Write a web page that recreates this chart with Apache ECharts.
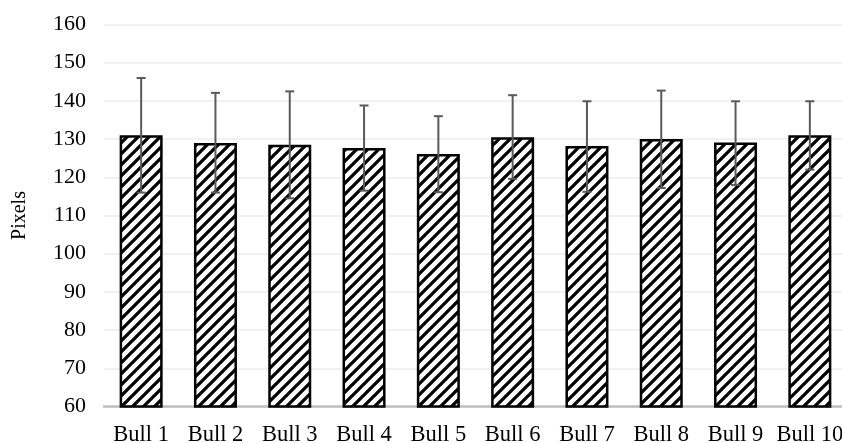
<!DOCTYPE html>
<html>
<head>
<meta charset="utf-8">
<script src="https://cdn.jsdelivr.net/npm/echarts@6/dist/echarts.min.js"></script>
<style>html,body{margin:0;padding:0;background:#fff;}#c{width:842px;height:443px;}</style>
</head>
<body>
<div id="c"></div>
<script>
const categories = ['Bull 1','Bull 2','Bull 3','Bull 4','Bull 5','Bull 6','Bull 7','Bull 8','Bull 9','Bull 10'];
const means = [131, 129, 128.5, 127.7, 126.1, 130.5, 128.2, 130, 129.1, 131];
const errLow = [116, 116, 114.5, 116.5, 116.1, 119.6, 116.2, 117.2, 118, 122];
const errHigh = [146, 142.1, 142.5, 138.8, 136, 141.5, 139.9, 142.7, 139.9, 139.9];
const yTicks = {min: 60, max: 160, interval: 10};

function makePattern() {
  const s = 11;
  const cv = document.createElement('canvas');
  cv.width = s; cv.height = s;
  const ctx = cv.getContext('2d');
  ctx.fillStyle = '#fff';
  ctx.fillRect(0, 0, s, s);
  ctx.strokeStyle = '#000';
  ctx.lineWidth = 3.3;
  ctx.beginPath();
  ctx.moveTo(-s, s); ctx.lineTo(s, -s);
  ctx.moveTo(0, 2*s); ctx.lineTo(2*s, 0);
  ctx.moveTo(-s, 2*s); ctx.lineTo(2*s, -s);
  ctx.stroke();
  return cv;
}

const chart = echarts.init(document.getElementById('c'), null, {renderer: 'canvas'});
const font = 'Liberation Serif';
chart.setOption({
  animation: false,
  grid: {left: 104, width: 743, top: 24.5, bottom: 36.5, containLabel: false, outerBoundsMode: 'none'},
  xAxis: {
    type: 'category',
    data: categories,
    axisLine: {lineStyle: {color: '#bfbfbf', width: 2.5}},
    axisTick: {show: false},
    axisLabel: {color: '#000', fontFamily: font, fontSize: 22.5, margin: 17, interval: 0}
  },
  yAxis: {
    type: 'value',
    min: yTicks.min, max: yTicks.max, interval: yTicks.interval,
    name: 'Pixels',
    nameLocation: 'middle',
    nameGap: 74,
    nameTextStyle: {color: '#000', fontFamily: font, fontSize: 20},
    axisLine: {show: false},
    axisTick: {show: false},
    axisLabel: {color: '#000', fontFamily: font, fontSize: 22, margin: 18},
    splitLine: {lineStyle: {color: '#ececec', width: 1.5}}
  },
  series: [
    {
      type: 'bar',
      data: means,
      barWidth: 43,
      itemStyle: {
        color: {image: makePattern(), repeat: 'repeat'},
        borderColor: '#000',
        borderWidth: 2.5
      }
    },
    {
      type: 'custom',
      data: categories.map((c, i) => [i, errLow[i], errHigh[i]]),
      z: 10,
      renderItem: function (params, api) {
        const i = api.value(0);
        const lo = api.coord([i, api.value(1)]);
        const hi = api.coord([i, api.value(2)]);
        const hw = 4.5;
        const st = {stroke: '#5a5a5a', lineWidth: 2};
        return {
          type: 'group',
          children: [
            {type: 'line', shape: {x1: lo[0], y1: lo[1], x2: hi[0], y2: hi[1]}, style: st},
            {type: 'line', shape: {x1: hi[0]-hw, y1: hi[1], x2: hi[0]+hw, y2: hi[1]}, style: st},
            {type: 'line', shape: {x1: lo[0]-hw, y1: lo[1], x2: lo[0]+hw, y2: lo[1]}, style: st}
          ]
        };
      }
    }
  ]
});
</script>
</body>
</html>
